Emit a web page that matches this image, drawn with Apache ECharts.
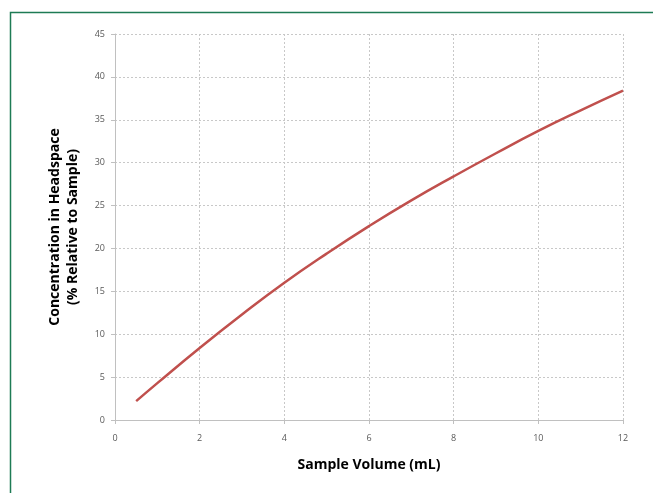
<!DOCTYPE html>
<html>
<head>
<meta charset="utf-8">
<script src="https://cdn.jsdelivr.net/npm/echarts@6/dist/echarts.min.js"></script>
<style>html,body{margin:0;padding:0;background:#fff;}#c{width:653px;height:493px;}</style>
</head>
<body>
<div id="c"></div>
<script>
const volumes = [0.5, 1, 2, 3, 4, 5, 6, 7, 8, 9, 10, 11, 12];
const concentrations = [2.2, 4.3, 8.4, 12.3, 16.0, 19.4, 22.6, 25.6, 28.4, 31.1, 33.7, 36.1, 38.4];
const xTitle = 'Sample Volume (mL)';
const yTitle = 'Concentration in Headspace\n(% Relative to Sample)';

const chart = echarts.init(document.getElementById('c'), null, {renderer: 'canvas'});
const font = '"Open Sans", "Liberation Sans", sans-serif';
chart.setOption({
  animation: false,
  backgroundColor: '#fff',
  graphic: [{
    type: 'rect', left: 8, top: 10, z: 100, silent: true,
    shape: {x: 0, y: 0, width: 700, height: 600},
    style: {fill: 'none', stroke: '#1e7b55', lineWidth: 1.5}
  }],
  grid: {left: 115, right: 30, top: 34, bottom: 73, containLabel: false},
  xAxis: {
    type: 'value', min: 0, max: 12, interval: 2,
    name: xTitle, nameLocation: 'middle', nameGap: 38,
    nameTextStyle: {fontFamily: font, fontSize: 14, fontWeight: 'bold', color: '#000'},
    axisLine: {show: true, lineStyle: {color: '#c0c0c0', width: 1}},
    axisTick: {show: true, length: 4, lineStyle: {color: '#c0c0c0'}},
    axisLabel: {fontFamily: font, fontSize: 9, color: '#595959', margin: 14},
    splitLine: {show: true, lineStyle: {color: '#c8c8c8', type: [2, 2], width: 1}}
  },
  yAxis: {
    type: 'value', min: 0, max: 45, interval: 5,
    name: yTitle, nameLocation: 'middle', nameGap: 33,
    nameTextStyle: {fontFamily: font, fontSize: 14, fontWeight: 'bold', color: '#000', lineHeight: 18},
    axisLine: {show: true, lineStyle: {color: '#c0c0c0', width: 1}},
    axisTick: {show: true, length: 4, lineStyle: {color: '#c0c0c0'}},
    axisLabel: {fontFamily: font, fontSize: 9, color: '#595959', margin: 10},
    splitLine: {show: true, lineStyle: {color: '#c8c8c8', type: [2, 2], width: 1}}
  },
  series: [{
    type: 'line',
    data: volumes.map((v, i) => [v, concentrations[i]]),
    smooth: true,
    showSymbol: false,
    lineStyle: {color: '#c0504d', width: 2.5}
  }]
});
</script>
</body>
</html>
